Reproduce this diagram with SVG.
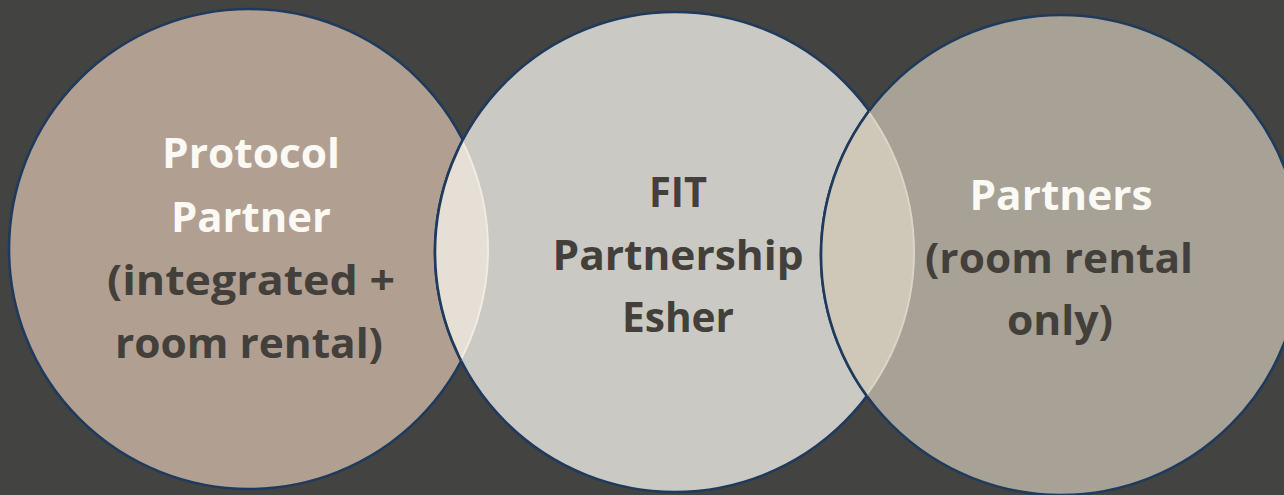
<svg xmlns="http://www.w3.org/2000/svg" width="1284" height="495" viewBox="0 0 1284 495">
  <style>
    .ring { stroke: #1e3a5c; stroke-width: 2.6; }
    .lbl { font-family: "Open Sans", "Liberation Sans", sans-serif; font-weight: 700; font-size: 42px; text-anchor: middle; }
    .light { fill: #fbf9f4; }
    .dark { fill: #433f3b; }
  </style>
  <defs>
    <clipPath id="clipLeft"><circle cx="249" cy="249" r="240"/></clipPath>
    <clipPath id="clipMid"><circle cx="675" cy="252" r="240"/></clipPath>
    <clipPath id="clipRight"><circle cx="1061" cy="255" r="240"/></clipPath>
  </defs>

  <rect width="1284" height="495" fill="#434442"/>

  <!-- left set -->
  <g id="protocol-partner">
    <circle class="ring" cx="249" cy="249" r="240" fill="#b1a092"/>
  </g>

  <!-- middle set -->
  <g id="fit-partnership">
    <circle class="ring" cx="675" cy="252" r="240" fill="#cbc9c3"/>
  </g>

  <!-- right set -->
  <g id="partners">
    <circle class="ring" cx="1061" cy="255" r="240" fill="#a8a196"/>
  </g>

  <!-- overlap regions: each lens is the intersection of two neighbouring sets -->
  <g id="overlaps">
    <g clip-path="url(#clipLeft)">
      <g clip-path="url(#clipMid)">
        <rect x="400" y="100" width="120" height="300" fill="#e6dfd6"/>
        <circle cx="249" cy="249" r="239" fill="none" stroke="#f3eee7" stroke-width="2" opacity="0.8"/>
      </g>
      <circle class="ring" cx="675" cy="252" r="240" fill="none"/>
    </g>
    <g clip-path="url(#clipMid)">
      <g clip-path="url(#clipRight)">
        <rect x="800" y="90" width="140" height="330" fill="#cfc8b9"/>
        <circle cx="675" cy="252" r="239" fill="none" stroke="#ddd7ca" stroke-width="2" opacity="0.8"/>
      </g>
      <circle class="ring" cx="1061" cy="255" r="240" fill="none"/>
    </g>
  </g>

  <!-- labels -->
  <g id="labels">
    <text class="lbl light" x="251" y="168" textLength="178" lengthAdjust="spacingAndGlyphs">Protocol</text>
    <text class="lbl light" x="251" y="232" textLength="160" lengthAdjust="spacingAndGlyphs">Partner</text>
    <text class="lbl dark" x="251" y="295" textLength="288" lengthAdjust="spacingAndGlyphs">(integrated +</text>
    <text class="lbl dark" x="249" y="358" textLength="268" lengthAdjust="spacingAndGlyphs">room rental)</text>

    <text class="lbl dark" x="678" y="207" textLength="58" lengthAdjust="spacingAndGlyphs">FIT</text>
    <text class="lbl dark" x="678" y="270" textLength="251" lengthAdjust="spacingAndGlyphs">Partnership</text>
    <text class="lbl dark" x="678" y="332" textLength="112" lengthAdjust="spacingAndGlyphs">Esher</text>

    <text class="lbl light" x="1061" y="210" textLength="183" lengthAdjust="spacingAndGlyphs">Partners</text>
    <text class="lbl dark" x="1059" y="273" textLength="268" lengthAdjust="spacingAndGlyphs">(room rental</text>
    <text class="lbl dark" x="1060" y="335" textLength="106" lengthAdjust="spacingAndGlyphs">only)</text>
  </g>
</svg>
